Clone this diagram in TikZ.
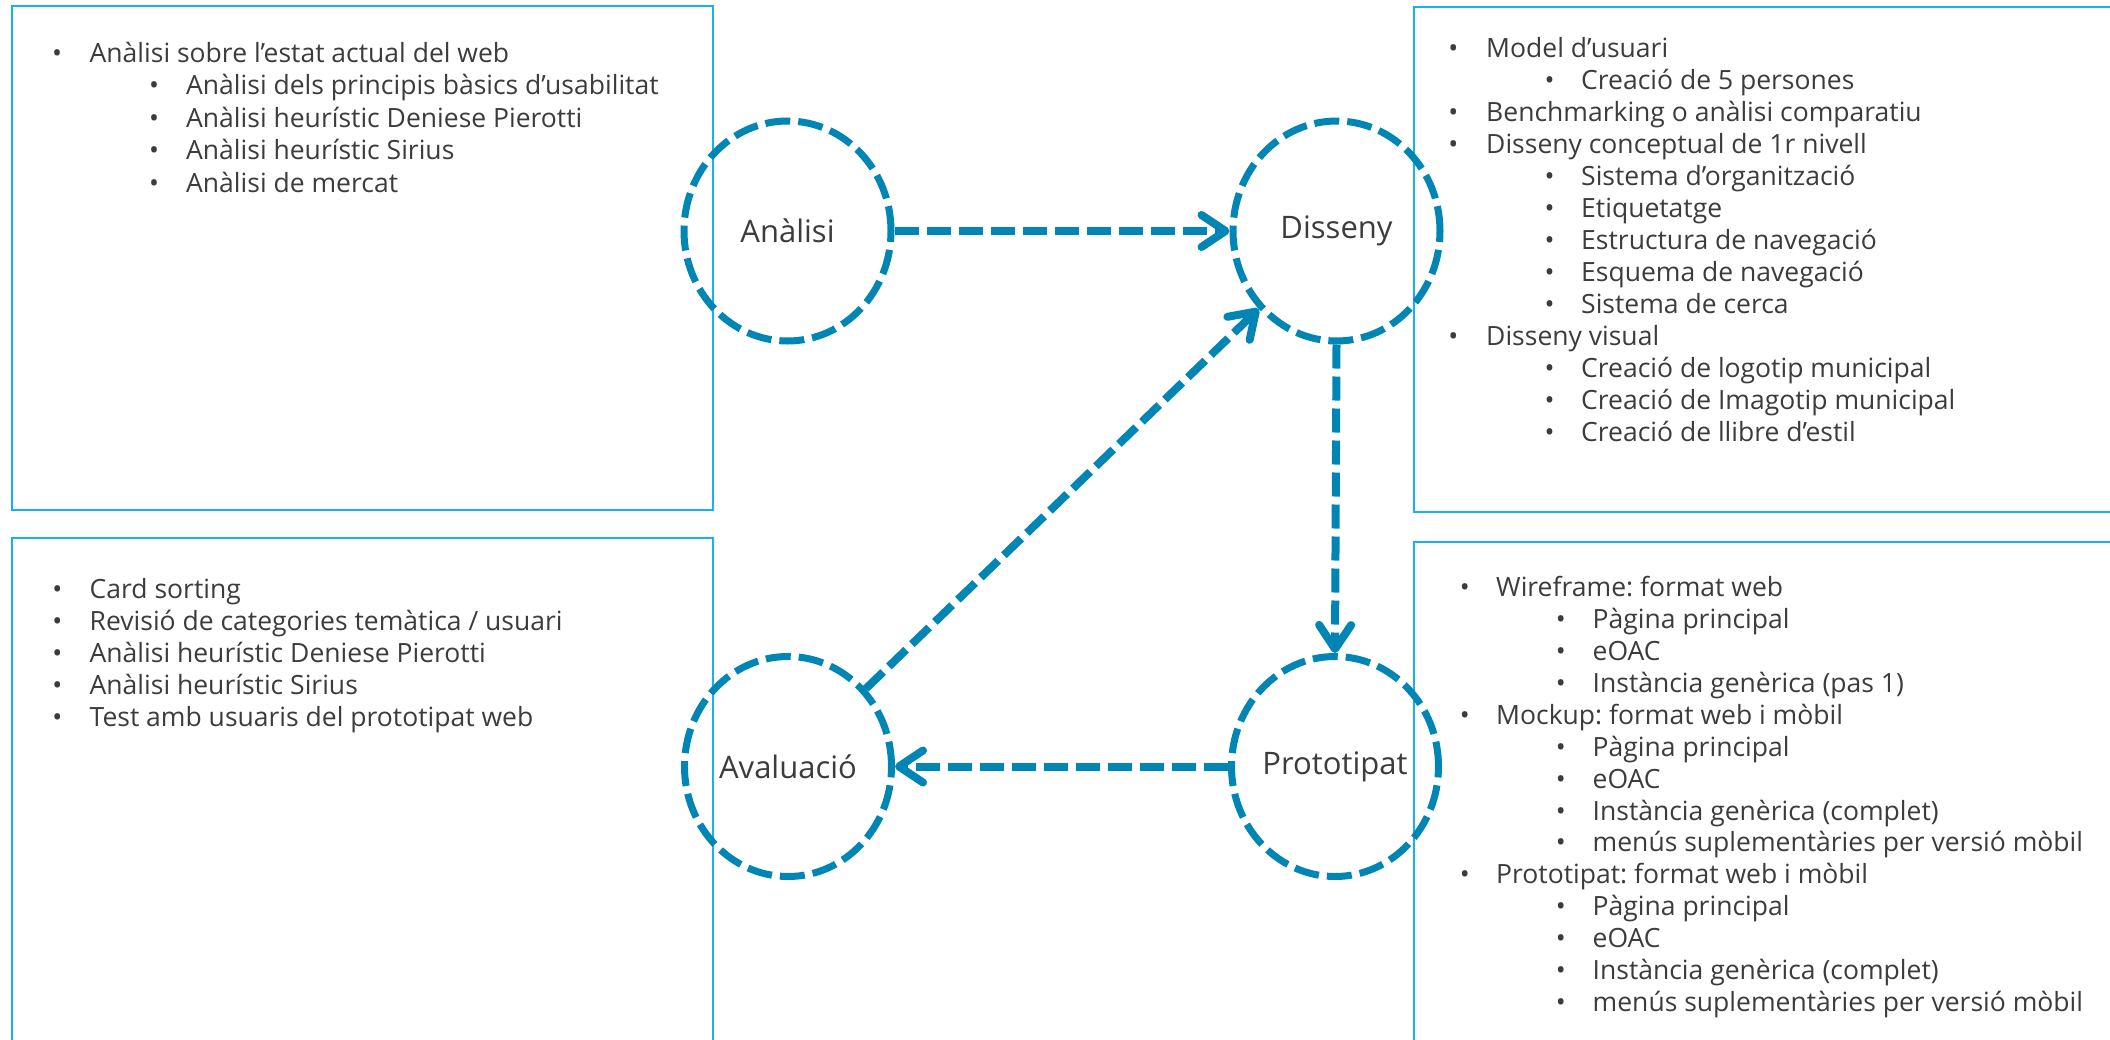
\documentclass[tikz,border=0pt]{standalone}
\usepackage{fontspec}
\setmainfont{Open Sans}
\usetikzlibrary{arrows.meta,shapes.geometric}
\definecolor{boxc}{RGB}{22,178,235}
\definecolor{arrc}{RGB}{0,133,181}
\definecolor{txtc}{RGB}{60,60,60}
\frenchspacing
\begin{document}
\begin{tikzpicture}[x=1pt,y=-1pt,
  panel/.style={draw=boxc,line width=2.6pt},
  phase/.style={draw=arrc,line width=7pt,dash pattern=on 25pt off 8pt,ellipse,
    minimum width=207pt,minimum height=220pt,inner sep=0pt,
    font=\fontsize{31}{37}\selectfont,text=txtc},
  flow/.style={draw=arrc,line width=8pt,dash pattern=on 24pt off 8pt,
    -{Straight Barb[length=24pt,width=32pt,round]}},
  item/.style={anchor=base west,inner sep=0pt,font=\fontsize{26.5}{32}\selectfont,text=txtc},
  bul/.style={anchor=base,inner sep=0pt,font=\fontsize{26.5}{32}\selectfont,text=txtc}
]
\path[use as bounding box] (0,0) rectangle (2110,1039);
\clip (0,0) rectangle (2110,1039);
\fill[white] (0,0) rectangle (2110,1039);

% panels
\draw[panel] (12,6) rectangle (713,510);
\draw[panel] (1414,7) rectangle (2130,512);
\draw[panel] (12,538) rectangle (713,1060);
\draw[panel] (1414,542) rectangle (2130,1060);

% phases
\node[phase] (an)  at (787.5,231) {Anàlisi};
\node[phase] (dis) at (1336.5,231) {Disseny};
\node[phase] (av)  at (788,766.5) {Avaluació};
\node[phase] (pro) at (1335,766.5) {Prototipat};

% flows
\draw[flow] (an.east) -- (dis.west);
\draw[flow] (dis.south) -- (pro.north);
\draw[flow] (pro.west) -- (av.east);
\draw[flow] (av.45) -- (dis.225);

% panel texts
\foreach \lv/\txt [count=\i] in {
  0/{Anàlisi sobre l’estat actual del web},
  1/{Anàlisi dels principis bàsics d’usabilitat},
  1/{Anàlisi heurístic Deniese Pierotti},
  1/{Anàlisi heurístic Sirius},
  1/{Anàlisi de mercat}}{
  \pgfmathsetmacro\yy{62+32.5*(\i-1)}
  \ifnum\lv=0 \def\bx{57}\def\tx{89.5}\else\def\bx{154}\def\tx{186}\fi
  \node[bul] (aB\i) at (\bx,\yy) {•};
  \node[item] (aT\i) at (\tx,\yy) {\txt};
}
\foreach \lv/\txt [count=\i] in {
  0/{Model d’usuari},
  1/{Creació de 5 persones},
  0/{Benchmarking o anàlisi comparatiu},
  0/{Disseny conceptual de 1r nivell},
  1/{Sistema d’organització},
  1/{Etiquetatge},
  1/{Estructura de navegació},
  1/{Esquema de navegació},
  1/{Sistema de cerca},
  0/{Disseny visual},
  1/{Creació de logotip municipal},
  1/{Creació de Imagotip municipal},
  1/{Creació de llibre d’estil}}{
  \pgfmathsetmacro\yy{57+32.08*(\i-1)}
  \ifnum\lv=0 \def\bx{1453.4}\def\tx{1486}\else\def\bx{1549.5}\def\tx{1581}\fi
  \node[bul] (dB\i) at (\bx,\yy) {•};
  \node[item] (dT\i) at (\tx,\yy) {\txt};
}
\foreach \lv/\txt [count=\i] in {
  0/{Card sorting},
  0/{Revisió de categories temàtica / usuari},
  0/{Anàlisi heurístic Deniese Pierotti},
  0/{Anàlisi heurístic Sirius},
  0/{Test amb usuaris del prototipat web}}{
  \pgfmathsetmacro\yy{598+32*(\i-1)}
  \node[bul] (vB\i) at (57.4,\yy) {•};
  \node[item] (vT\i) at (89.5,\yy) {\txt};
}
\foreach \lv/\txt [count=\i] in {
  0/{Wireframe: format web},
  1/{Pàgina principal},
  1/{eOAC},
  1/{Instància genèrica (pas 1)},
  0/{Mockup: format web i mòbil},
  1/{Pàgina principal},
  1/{eOAC},
  1/{Instància genèrica (complet)},
  1/{menús suplementàries per versió mòbil},
  0/{Prototipat: format web i mòbil},
  1/{Pàgina principal},
  1/{eOAC},
  1/{Instància genèrica (complet)},
  1/{menús suplementàries per versió mòbil}}{
  \pgfmathsetmacro\yy{596.7+31.9*(\i-1)}
  \ifnum\lv=0 \def\bx{1464.8}\def\tx{1496}\else\def\bx{1560.8}\def\tx{1592.5}\fi
  \node[bul] (pB\i) at (\bx,\yy) {•};
  \node[item] (pT\i) at (\tx,\yy) {\txt};
}
\end{tikzpicture}
\end{document}
